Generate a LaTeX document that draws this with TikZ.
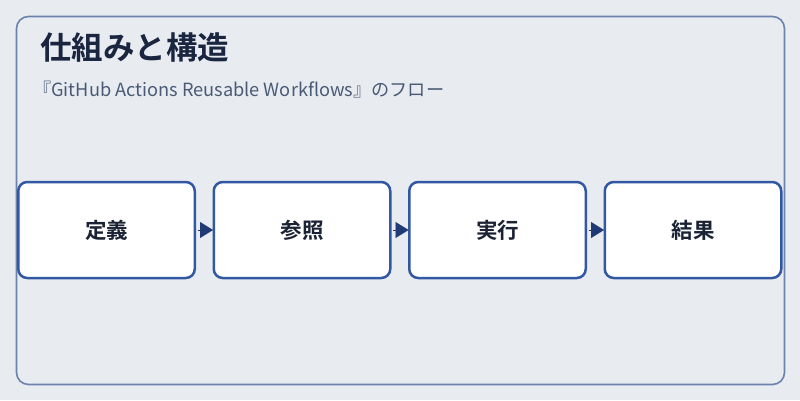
\documentclass[tikz,border=0pt]{standalone}
\usepackage{fontspec}
\setmainfont{Noto Sans CJK JP}
\newfontfamily\jpbold{Noto Sans CJK JP Bold}
\usetikzlibrary{arrows.meta}
\definecolor{bgc}{HTML}{E8ECF1}
\definecolor{framec}{HTML}{6B82AD}
\definecolor{boxc}{HTML}{3358A3}
\definecolor{arrc}{HTML}{1F3A74}
\definecolor{titlec}{HTML}{1A2540}
\definecolor{subc}{HTML}{4A5A75}
\definecolor{textc}{HTML}{1A2233}
\tikzset{
  stepbox/.style={draw=boxc, line width=2.5pt, fill=white, rounded corners=9pt,
    minimum width=176.5pt, minimum height=96pt, inner sep=0pt,
    font=\jpbold\fontsize{21.5}{24}\selectfont, text=textc},
  flowarrow/.style={-{Triangle[length=13pt,width=16pt]}, draw=arrc, fill=arrc, line width=0.1pt, shorten <=1.5pt, shorten >=-0.5pt}
}
\begin{document}
\begin{tikzpicture}[x=1pt,y=-1pt]
\useasboundingbox (0,0) rectangle (800,400);
\fill[bgc] (0,0) rectangle (800,400);
\draw[framec, line width=1.6pt, rounded corners=12pt] (16.5,16.5) rectangle (784.5,384.5);
\node[anchor=base west, font=\jpbold\fontsize{31.5}{35}\selectfont, text=titlec, inner sep=0pt] (title) at (40,59) {仕組みと構造};
\node[anchor=base west, font=\fontsize{18.2}{21}\selectfont, text=subc, inner sep=0pt] (sub) at (33,96) {『GitHub Actions Reusable Workflows』のフロー};
\node[stepbox] (b1) at (106.5,230) {定義};
\node[stepbox] (b2) at (302,230) {参照};
\node[stepbox] (b3) at (497.5,230) {実行};
\node[stepbox] (b4) at (693,230) {結果};
\draw[flowarrow] (b1.east) -- (b2.west);
\draw[flowarrow] (b2.east) -- (b3.west);
\draw[flowarrow] (b3.east) -- (b4.west);
\end{tikzpicture}
\end{document}
